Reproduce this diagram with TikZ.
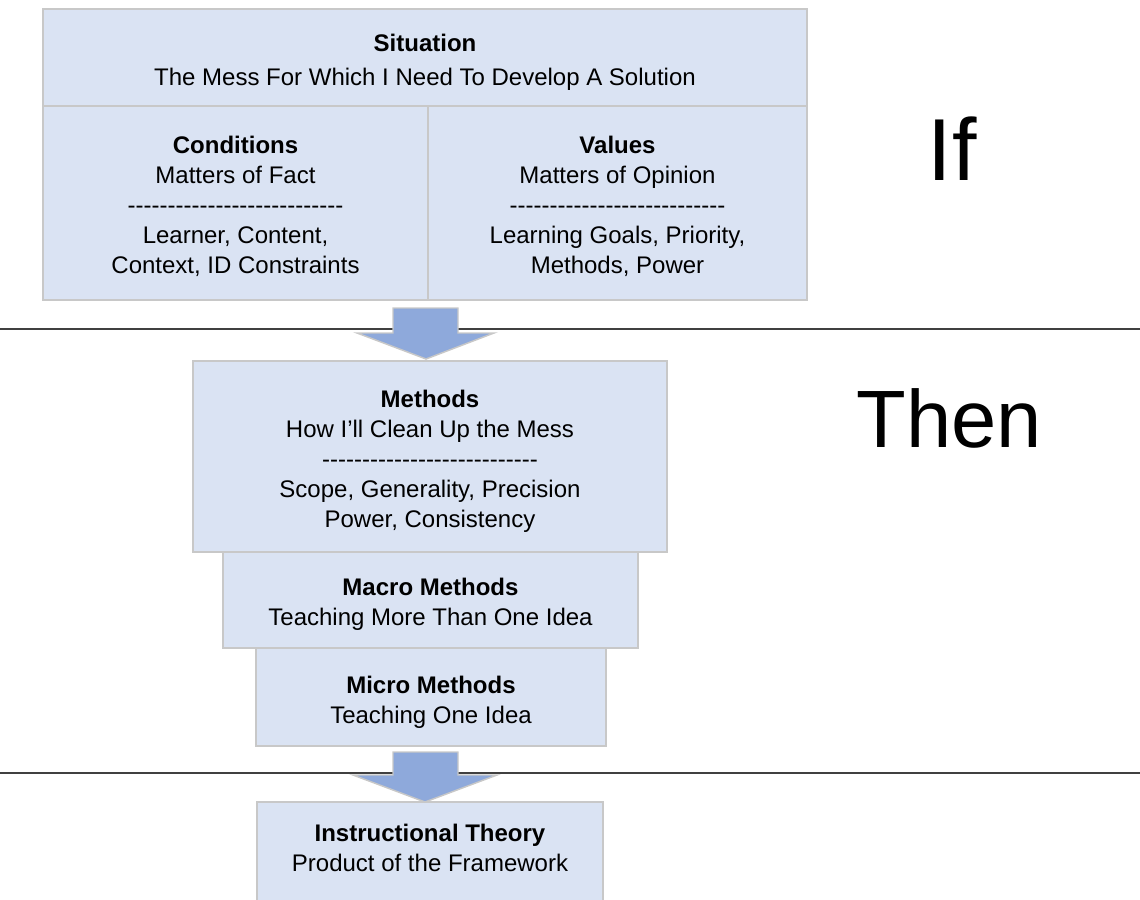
\documentclass[tikz,border=0pt]{standalone}
\usepackage{fontspec}
\newfontfamily\arialfont{Liberation Sans}
\usepackage{tikz}
\definecolor{boxfill}{RGB}{218,227,243}
\definecolor{boxline}{RGB}{200,200,200}
\definecolor{arrowfill}{RGB}{142,169,219}
\definecolor{rulecol}{RGB}{64,64,64}

\begin{document}
\begin{tikzpicture}[x=0.75pt,y=0.75pt,yscale=-1,xscale=1,
        box/.style={draw=boxline,fill=boxfill,line width=1.1pt},
        bigarrow/.style={draw=boxline,fill=arrowfill,line width=1.1pt},
        divider/.style={draw=rulecol,line width=0.8pt},
        txt/.style={inner sep=0pt,align=center,font=\arialfont\fontsize{18}{22.5}\selectfont},
        bigtxt/.style={inner sep=0pt,anchor=base,font=\arialfont\fontsize{#1}{#1}\selectfont}]
        \useasboundingbox (0,0) rectangle (1140,900);
        % if / then rules
        \coordinate (r1w) at (0,329);
        \coordinate (r1e) at (1140,329);
        \coordinate (r2w) at (0,773);
        \coordinate (r2e) at (1140,773);
        \draw [divider] (r1w) -- (r1e) ;
        \draw [divider] (r2w) -- (r2e) ;
        
        \draw [box] (43,9) rectangle (807,106) ;
        \draw [box] (43,106) rectangle (428,300) ;
        \draw [box] (428,106) rectangle (807,300) ;
        \draw [box] (193,361) rectangle (667,552) ;
        \draw [box] (223,552) rectangle (638,648) ;
        \draw [box] (256,648) rectangle (606,746) ;
        \draw [box] (257,802) rectangle (603,906) ;
        
        \draw [bigarrow] (393,308) -- (458,308) -- (458,333) -- (494,333) -- (426,359) -- (357,333) -- (393,333) -- cycle ;
        \draw [bigarrow] (393,752) -- (458,752) -- (458,775) -- (497,775) -- (425,802) -- (353,775) -- (393,775) -- cycle ;
        
        \draw (425,62) node [txt] (sit) {\textbf{Situation}\\[3pt]The Mess For Which I Need To Develop A Solution};
        \draw (235.5,206) node [txt] (cond) {\textbf{Conditions}\\Matters of Fact\\---------------------------\\Learner, Content,\\Context, ID Constraints};
        \draw (617.5,206) node [txt] (val) {\textbf{Values}\\Matters of Opinion\\---------------------------\\Learning Goals, Priority,\\Methods, Power};
        \draw (430,461) node [txt] (meth) {\textbf{Methods}\\How I’ll Clean Up the Mess\\---------------------------\\Scope, Generality, Precision\\Power, Consistency};
        \draw (430.5,604.5) node [txt] (macro) {\textbf{Macro Methods}\\Teaching More Than One Idea};
        \draw (431,702) node [txt] (micro) {\textbf{Micro Methods}\\Teaching One Idea};
        \draw (430,848) node [txt] (theory) {\textbf{Instructional Theory}\\Product of the Framework};
        
        \draw (952,180) node [bigtxt=66] (if) {If};
        \draw (949,447) node [bigtxt=61] (then) {Then};
\end{tikzpicture}
\end{document}
